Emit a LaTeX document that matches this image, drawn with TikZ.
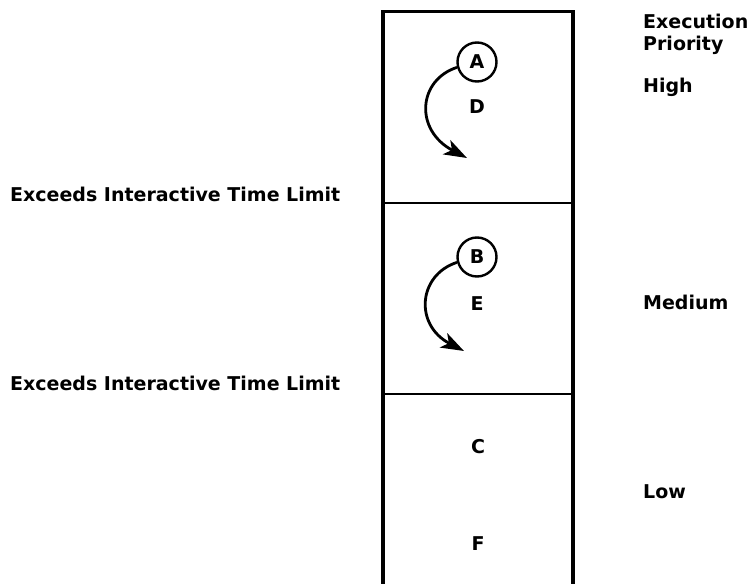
\documentclass[tikz,border=0pt]{standalone}
\usepackage{fontspec}
\setmainfont{DejaVu Sans}
\usetikzlibrary{arrows.meta}
\begin{document}
\begin{tikzpicture}[x=1pt,y=-1pt,
  every node/.style={font=\fontsize{19}{23}\selectfont\bfseries},
  lbl/.style={inner sep=0pt, anchor=base west},
  letter/.style={inner sep=0pt, anchor=base},
  frame/.style={line width=3.5pt, line join=miter},
  divider/.style={line width=2.8pt},
  job/.style={draw, circle, line width=2.4pt, minimum size=39pt, inner sep=0pt},
  flow/.style={line width=2.8pt, -{Stealth[length=23pt,width=16pt,inset=6pt]}}]
\useasboundingbox (0,0) rectangle (753,584);

% storage column with its three priority partitions
\coordinate (tl) at (383,11.5);
\coordinate (tr) at (573,11.5);
\coordinate (bl) at (383,586);
\coordinate (br) at (573,586);
\draw[frame] (bl) -- (tl) -- (tr) -- (br);
\coordinate (d1l) at (383,203);
\coordinate (d1r) at (573,203);
\coordinate (d2l) at (383,394);
\coordinate (d2r) at (573,394);
\draw[divider] (d1l) -- (d1r);
\draw[divider] (d2l) -- (d2r);

% high priority partition
\node[job] (A) at (477,62) {A};
\node[letter] (D) at (477,113) {D};
\coordinate (Aend) at (467,158);
\draw[flow] (A.195) .. controls (418,80) and (414,130) .. (Aend);

% medium priority partition
\node[job] (B) at (477,257) {B};
\node[letter] (E) at (477,310) {E};
\coordinate (Bend) at (464,351);
\draw[flow] (B.195) .. controls (418,275) and (414,325) .. (Bend);

% low priority partition
\node[letter] (C) at (478,453) {C};
\node[letter] (F) at (478,550) {F};

% time limit notes
\node[lbl] (lim1) at (10,201) {Exceeds Interactive Time Limit};
\node[lbl] (lim2) at (10,390) {Exceeds Interactive Time Limit};

% priority column
\node[lbl] (hd1) at (643,28) {Execution};
\node[lbl] (hd2) at (643,50) {Priority};
\node[lbl] (high) at (643,92) {High};
\node[lbl] (med) at (643,309) {Medium};
\node[lbl] (low) at (643,498) {Low};
\end{tikzpicture}
\end{document}
